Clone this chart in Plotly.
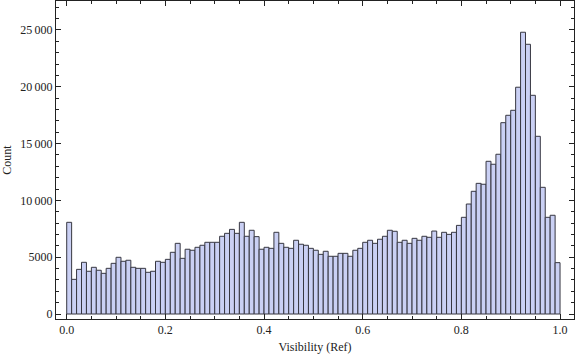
import plotly.graph_objects as go

# Histogram data: bins of width 0.01 from 0.0 to 1.0
bin_start = 0.0
bin_width = 0.01
counts = [
    8070, 3050, 3930, 4550, 3760, 4110, 3850, 3580, 4020, 4460,
    4990, 4640, 4730, 4110, 4020, 4020, 3670, 3760, 4640, 4550,
    4810, 5430, 6220, 4900, 5700, 5610, 5870, 6050, 6310, 6310,
    6310, 6840, 7100, 7450, 7100, 8070, 6840, 7370, 6810, 5700,
    5870, 5780, 7190, 6220, 5870, 5780, 6490, 6140, 6050, 5780,
    5610, 5250, 5520, 5080, 5080, 5340, 5340, 5080, 5610, 5780,
    6310, 6490, 6220, 6580, 6840, 7370, 7280, 6310, 6490, 6220,
    6660, 6490, 6840, 6750, 7300, 6750, 7190, 7010, 7190, 7800,
    8510, 9680, 10800, 11500, 11420, 13440, 13180, 14060, 16840, 17490,
    17930, 19960, 24800, 23740, 19250, 15640, 11150, 8510, 8690, 4520,
]
x_centers = [bin_start + bin_width * (i + 0.5) for i in range(len(counts))]

x_tickvals = [0.0, 0.2, 0.4, 0.6, 0.8, 1.0]
x_ticktext = ["0.0", "0.2", "0.4", "0.6", "0.8", "1.0"]
y_tickvals = [0, 5000, 10000, 15000, 20000, 25000]
y_ticktext = ["0", "5000", "10\u2009000", "15\u2009000", "20\u2009000", "25\u2009000"]

fig = go.Figure()
fig.add_trace(go.Bar(
    x=x_centers, y=counts, width=bin_width,
    marker=dict(color="rgb(202,208,244)",
                line=dict(color="rgb(55,55,65)", width=1)),
    hoverinfo="skip",
))

font = dict(family="Liberation Serif, Times New Roman, serif", size=12, color="#222")
axis_common = dict(
    showgrid=False, zeroline=False, showline=True, linecolor="#222", linewidth=1,
    mirror="ticks", ticks="inside", ticklen=5, tickcolor="#222", tickwidth=1,
    tickfont=font,
)
fig.update_layout(
    width=576, height=361,
    margin=dict(l=56, r=2, t=1, b=42),
    paper_bgcolor="white", plot_bgcolor="white",
    bargap=0, showlegend=False, font=font,
    xaxis=dict(range=[-0.0217, 1.0283], tickvals=x_tickvals, ticktext=x_ticktext,
               minor=dict(dtick=0.05, ticks="inside", ticklen=3, tickcolor="#222"),
               title=dict(text="Visibility (Ref)", font=font, standoff=6),
               **axis_common),
    yaxis=dict(range=[-440, 27550], tickvals=y_tickvals, ticktext=y_ticktext,
               minor=dict(dtick=1000, tick0=0, ticks="inside", ticklen=3, tickcolor="#222"),
               title=dict(text="Count", font=font, standoff=6),
               **axis_common),
)
fig.write_html(
    "out.html",
    config={"displayModeBar": False, "staticPlot": True},
    post_script="document.body.style.margin='0';document.body.style.overflow='hidden';",
)
